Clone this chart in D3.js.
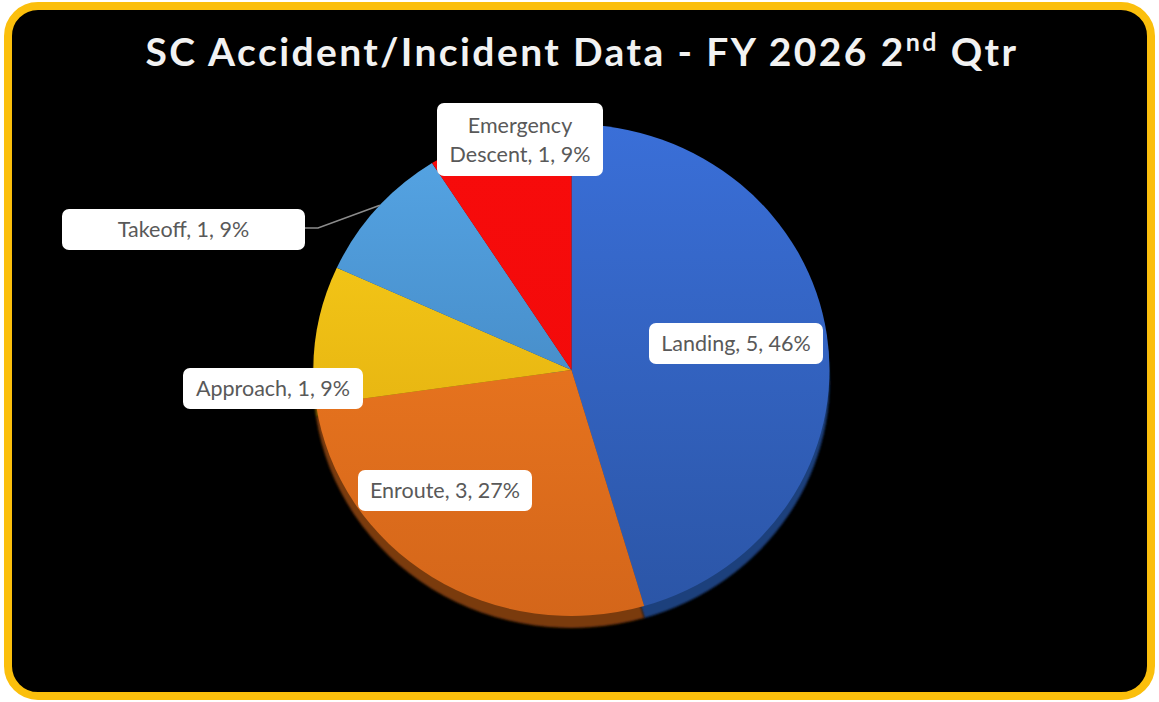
<!DOCTYPE html>
<html>
<head>
<meta charset="utf-8">
<script src="https://cdn.jsdelivr.net/npm/d3@7"></script>
<style>
  html, body { margin: 0; padding: 0; background: #ffffff; }
  svg { display: block; }
</style>
</head>
<body>
<svg id="chart" width="1159" height="702"></svg>
<script>
// Accident / incident counts by phase of flight
const categories = ["Landing", "Enroute", "Approach", "Takeoff", "Emergency Descent"];
const counts = [5, 3, 1, 1, 1];
const percentLabels = ["46%", "27%", "9%", "9%", "9%"];

// Slice colours: [light top, dark bottom, side wall]
const sliceColors = [
  ["#3a6fd8", "#2b55a6", "#1f3f7c"],
  ["#f77f22", "#d4661a", "#7a3a0e"],
  ["#fcd21a", "#d9a20c", "#7a5a06"],
  ["#56a6e6", "#3a78b0", "#23496b"],
  ["#f80b0b", "#ee0a0a", "#7a0606"]
];

// Label boxes (left, top, width, height)
const labelBoxes = [
  [649, 323, 174, 41],
  [358, 470, 174, 41],
  [183, 368, 180, 41],
  [62, 209, 243, 41],
  [437, 103, 166, 73]
];

const svg = d3.select("#chart");
const W = 1159, H = 702;

// Frame: gold rounded border on black
svg.append("rect")
  .attr("x", 8).attr("y", 6)
  .attr("width", W - 16).attr("height", H - 12)
  .attr("rx", 30).attr("ry", 30)
  .attr("fill", "#000")
  .attr("stroke", "#fbbf0c")
  .attr("stroke-width", 8);

// Title
const title = svg.append("text")
  .attr("x", 582).attr("y", 66)
  .attr("text-anchor", "middle")
  .attr("fill", "#f2f2f2")
  .attr("font-family", "Lato, 'Open Sans', sans-serif")
  .attr("font-weight", "bold")
  .attr("font-size", 39)
  .attr("letter-spacing", 2.4);
title.append("tspan").text("SC Accident/Incident Data - FY 2026 2");
title.append("tspan").attr("font-size", 25).attr("dy", -15).text("nd");
title.append("tspan").attr("dy", 15).text(" Qtr");

// Pie geometry: slightly tilted disc
const cx = 571.5, cy = 370, rx = 258, ry = 246, depth = 12;
const data = categories.map((c, i) => ({ name: c, value: counts[i], pct: percentLabels[i], i }));

const pie = d3.pie().sort(null).value(d => d.value)
  .startAngle(0).endAngle(2 * Math.PI);
const arcs = pie(data);
const arc = d3.arc().innerRadius(0).outerRadius(rx);

const defs = svg.append("defs");
sliceColors.forEach((c, i) => {
  const g = defs.append("linearGradient")
    .attr("id", "grad" + i)
    .attr("gradientUnits", "userSpaceOnUse")
    .attr("x1", 0).attr("y1", -rx).attr("x2", 0).attr("y2", rx);
  g.append("stop").attr("offset", "0%").attr("stop-color", c[0]);
  g.append("stop").attr("offset", "100%").attr("stop-color", c[1]);
});
const blur = defs.append("filter").attr("id", "soft")
  .attr("x", "-5%").attr("y", "-5%").attr("width", "110%").attr("height", "110%");
blur.append("feGaussianBlur").attr("stdDeviation", 1.2);

// Side wall of the disc
const sideLayer = svg.append("g")
  .attr("transform", `translate(${cx},${cy + depth}) scale(1,${ry / rx})`);
sideLayer.selectAll("path")
  .data(arcs)
  .join("path")
  .attr("d", arc)
  .attr("fill", d => sliceColors[d.data.i][2])
  .attr("filter", "url(#soft)");

// Top surface
const topLayer = svg.append("g")
  .attr("transform", `translate(${cx},${cy}) scale(1,${ry / rx})`);
topLayer.selectAll("path")
  .data(arcs)
  .join("path")
  .attr("d", arc)
  .attr("fill", d => `url(#grad${d.data.i})`);

// Leader line for the Takeoff label
const takeoff = arcs[3];
const midA = (takeoff.startAngle + takeoff.endAngle) / 2 + 0.02;
const edgeX = cx + Math.sin(midA) * rx;
const edgeY = cy - Math.cos(midA) * ry;
const tb = labelBoxes[3];
svg.append("polyline")
  .attr("points", [[tb[0] + tb[2], tb[1] + 19], [tb[0] + tb[2] + 13, tb[1] + 19], [edgeX, edgeY]].map(p => p.join(",")).join(" "))
  .attr("fill", "none")
  .attr("stroke", "#8c8c8c")
  .attr("stroke-width", 1.5);

// Data labels
const labels = svg.append("g")
  .attr("font-family", "Lato, 'Open Sans', sans-serif")
  .attr("font-size", 21.5)
  .attr("fill", "#595959");

arcs.forEach((d, k) => {
  const b = labelBoxes[k];
  labels.append("rect")
    .attr("x", b[0]).attr("y", b[1])
    .attr("width", b[2]).attr("height", b[3])
    .attr("rx", 7).attr("fill", "#ffffff");
  const t = labels.append("text")
    .attr("text-anchor", "middle")
    .attr("x", b[0] + b[2] / 2);
  if (d.data.name === "Emergency Descent") {
    t.append("tspan").attr("x", b[0] + b[2] / 2).attr("y", b[1] + 30).text("Emergency");
    t.append("tspan").attr("x", b[0] + b[2] / 2).attr("y", b[1] + 59)
      .text(`Descent, ${d.data.value}, ${d.data.pct}`);
  } else {
    t.attr("y", b[1] + 28).text(`${d.data.name}, ${d.data.value}, ${d.data.pct}`);
  }
});
</script>
</body>
</html>
